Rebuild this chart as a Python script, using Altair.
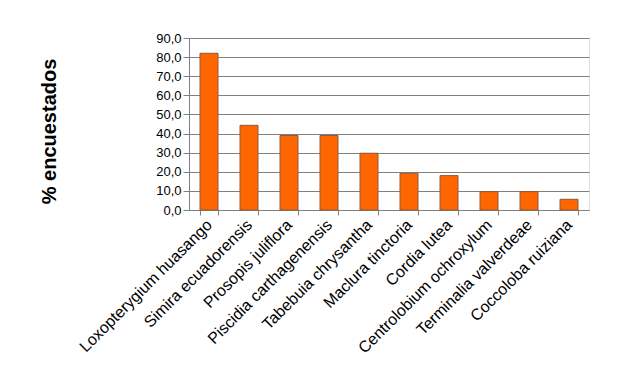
import altair as alt
import pandas as pd

species = [
    "Loxopterygium huasango",
    "Simira ecuadorensis",
    "Prosopis juliflora",
    "Piscidia carthagenensis",
    "Tabebuia chrysantha",
    "Maclura tinctoria",
    "Cordia lutea",
    "Centrolobium ochroxylum",
    "Terminalia valverdeae",
    "Coccoloba ruiziana",
]
values = [82.0, 44.3, 39.0, 39.0, 29.7, 19.2, 18.0, 9.6, 9.6, 5.6]

df = pd.DataFrame({"especie": species, "pct": values})

font = "Liberation Sans"

chart = alt.Chart(df).mark_bar(
    color="#FF6600", stroke="#8C5A3C", strokeWidth=1
).encode(
    x=alt.X(
        "especie:N",
        sort=species,
        title=None,
        scale=alt.Scale(paddingInner=0.55, paddingOuter=0.275),
        axis=alt.Axis(
            labelAngle=-45,
            labelAlign="right",
            labelBaseline="middle",
            labelPadding=7,
            labelFontSize=16,
            labelFont=font,
            labelColor="#000000",
            labelLimit=0,
            tickBand="extent",
            tickSize=5,
            tickColor="#808080",
            domainColor="#808080",
            grid=False,
            labelOverlap=False,
        ),
    ),
    y=alt.Y(
        "pct:Q",
        title="% encuestados",
        scale=alt.Scale(domain=[0, 90], nice=False),
        axis=alt.Axis(
            values=[0, 10, 20, 30, 40, 50, 60, 70, 80, 90],
            labelExpr="replace(format(datum.value, '.1f'), '.', ',')",
            labelFontSize=13,
            labelFont=font,
            labelColor="#000000",
            labelPadding=2,
            tickSize=6,
            tickColor="#808080",
            domainColor="#808080",
            gridColor="#808080",
            gridWidth=1,
            titleFont=font,
            titleFontSize=20,
            titleFontWeight="bold",
            titleColor="#000000",
            titleAngle=-90,
            titleX=-140,
            titleY=93,
            titleAlign="center",
            titleBaseline="middle",
        ),
    ),
).properties(
    width=400,
    height=172,
    autosize=alt.AutoSizeParams(type="none"),
    padding={"left": 181, "top": 30, "right": 35, "bottom": 160},
).configure_view(
    fill="#C0C0C0", stroke="#808080", strokeWidth=1
).configure(background="white")

chart.save("out.html", embed_options={"renderer": "svg", "actions": False})
